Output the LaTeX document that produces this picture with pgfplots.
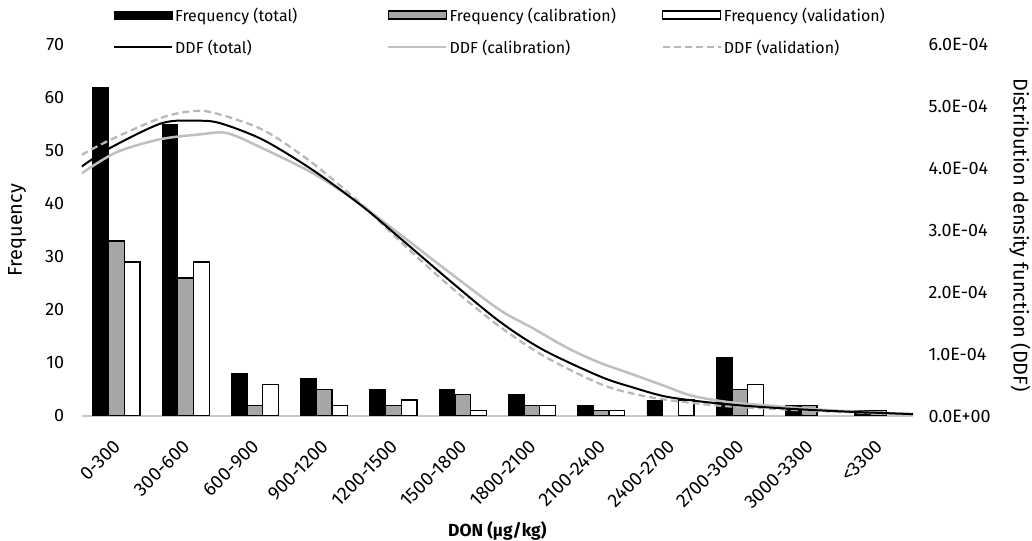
\documentclass[border=0pt]{standalone}
\usepackage{fontspec}
\setmainfont{Fira Sans}
\usepackage{pgfplots}
\pgfplotsset{compat=1.18}
\definecolor{barg}{HTML}{A6A6A6}
\definecolor{lg}{HTML}{BFBFBF}
\definecolor{lgd}{HTML}{B8B8B8}
\definecolor{axg}{HTML}{C8C8C8}
\pgfplotsset{
  barleg/.style={legend image code/.code={\draw[##1] (0bp,-4bp) rectangle (58bp,4bp);}},
  lineleg/.style={legend image code/.code={\draw[##1] (0bp,0bp) -- (58bp,0bp);}},
}
\begin{document}
\begin{tikzpicture}[font=\fontsize{16}{19}\selectfont]
\useasboundingbox (0,0) rectangle (1032bp,541bp);
\begin{axis}[
  at={(81.7bp,125bp)}, anchor=south west,
  scale only axis, width=831.3bp, height=371.4bp,
  xmin=-0.5, xmax=11.5, ymin=0, ymax=70,
  /pgf/number format/assume math mode=true,
  ytick={0,10,...,70},
  xtick={0,...,11},
  xticklabels={0-300,300-600,600-900,900-1200,1200-1500,1500-1800,1800-2100,2100-2400,2400-2700,2700-3000,3000-3300,<3300},
  xticklabel style={yshift=-25bp, xshift=3bp, rotate=45, anchor=east, font=\fontsize{19}{22}\selectfont},
  yticklabel style={xshift=-14bp, font=\fontsize{18}{21}\selectfont},
  major tick length=0pt,
  separate axis lines,
  axis x line*=bottom, axis y line*=left,
  x axis line style={axg, line width=1.5pt, -},
  y axis line style={draw=none},
  ybar=0pt, bar width=15.7bp,
  xlabel={\bfseries DON (µg/kg)},
  xlabel style={at={(axis description cs:0.5,-0.309)}, anchor=center, font=\fontsize{17.5}{20}\selectfont},
  ylabel={Frequency},
  ylabel style={at={(axis description cs:-0.0778,0.5)}, anchor=center, font=\fontsize{20}{23}\selectfont},
  legend columns=3,
  legend style={draw=none, fill=none, at={(0.0377,1)}, anchor=west, yshift=13.5bp,
    inner sep=0pt, row sep=13bp, cells={anchor=west}},
]
\addplot[fill=black, draw=black, line width=0.8pt, barleg] coordinates {
(0,62) (1,55) (2,8) (3,7) (4,5) (5,5) (6,4) (7,2) (8,3) (9,11) (10,2) (11,1)};
\addlegendentry{\makebox[210bp][l]{Frequency (total)}}
\addplot[fill=barg, draw=black, line width=1.3pt, barleg] coordinates {
(0,33) (1,26) (2,2) (3,5) (4,2) (5,4) (6,2) (7,1) (9,5) (10,2) (11,1)};
\addlegendentry{\makebox[210bp][l]{Frequency (calibration)}}
\addplot[fill=white, draw=black, line width=1.3pt, barleg] coordinates {
(0,29) (1,29) (2,6) (3,2) (4,3) (5,1) (6,2) (7,1) (8,3) (9,6)};
\addlegendentry{\makebox[210bp][l]{Frequency (validation)}}
\addlegendimage{black, line width=2pt, lineleg}
\addlegendentry{\makebox[210bp][l]{DDF (total)}}
\addlegendimage{lg, line width=2.5pt, lineleg}
\addlegendentry{\makebox[210bp][l]{DDF (calibration)}}
\addlegendimage{lgd, line width=2.3pt, dash pattern=on 7pt off 4pt, lineleg}
\addlegendentry{\makebox[210bp][l]{DDF (validation)}}
\end{axis}
\begin{axis}[
  at={(81.7bp,125bp)}, anchor=south west,
  scale only axis, width=831.3bp, height=371.4bp,
  xmin=-0.5, xmax=11.5, ymin=0, ymax=6e-4,
  axis x line=none, axis y line*=right,
  y axis line style={draw=none},
  major tick length=0pt,
  scaled y ticks=false,
  ytick={0,1e-4,2e-4,3e-4,4e-4,5e-4,6e-4},
  yticklabels={0.0E+00,1.0E-04,2.0E-04,3.0E-04,4.0E-04,5.0E-04,6.0E-04},
  yticklabel style={xshift=12bp, font=\fontsize{18}{21}\selectfont},
  ylabel={Distribution density function (DDF)},
  ylabel style={at={(axis description cs:1.1287,0.487)}, anchor=center, rotate=180, font=\fontsize{20}{23}\selectfont},
]
\addplot[lg, line width=2.5pt, smooth, tension=0.5] coordinates {
(-0.5,3.92e-4) (0,4.26e-4) (0.63,4.47e-4) (1.21,4.55e-4) (1.60,4.57e-4)
(2.12,4.32e-4) (2.84,3.92e-4) (3.45,3.48e-4) (4.10,2.93e-4) (4.82,2.31e-4)
(5.54,1.71e-4) (6.01,1.42e-4) (6.51,1.10e-4) (6.98,8.6e-5) (7.46,6.7e-5)
(7.95,4.7e-5) (8.3,3.3e-5) (8.8,2.3e-5) (9.5,1.6e-5) (10.4,8.6e-6) (11.5,3e-6)};
\addplot[lgd, line width=2.3pt, dash pattern=on 7pt off 4pt, smooth] coordinates {
(-0.5,4.22e-4) (-0.09,4.46e-4) (0.63,4.81e-4) (1.06,4.92e-4) (1.40,4.90e-4)
(2.12,4.62e-4) (2.84,4.08e-4) (3.56,3.40e-4) (4.10,2.82e-4) (4.82,2.09e-4)
(5.54,1.44e-4) (6.2,9.5e-5) (6.98,5.2e-5) (7.46,3.6e-5) (7.95,2.6e-5)
(8.67,1.7e-5) (9.39,1.2e-5) (10.35,7e-6) (11.5,3e-6)};
\addplot[black, line width=2pt, smooth] coordinates {
(-0.5,4.03e-4) (-0.09,4.33e-4) (0.655,4.73e-4) (1.16,4.77e-4) (1.50,4.73e-4)
(2.12,4.46e-4) (2.84,3.97e-4) (3.56,3.38e-4) (4.10,2.87e-4) (4.82,2.18e-4)
(5.54,1.52e-4) (6.16,1.07e-4) (6.98,6.4e-5) (7.46,4.6e-5) (7.95,3.1e-5)
(8.67,2.05e-5) (9.39,1.4e-5) (10.35,8e-6) (11.5,3e-6)};
\end{axis}
\end{tikzpicture}
\end{document}
